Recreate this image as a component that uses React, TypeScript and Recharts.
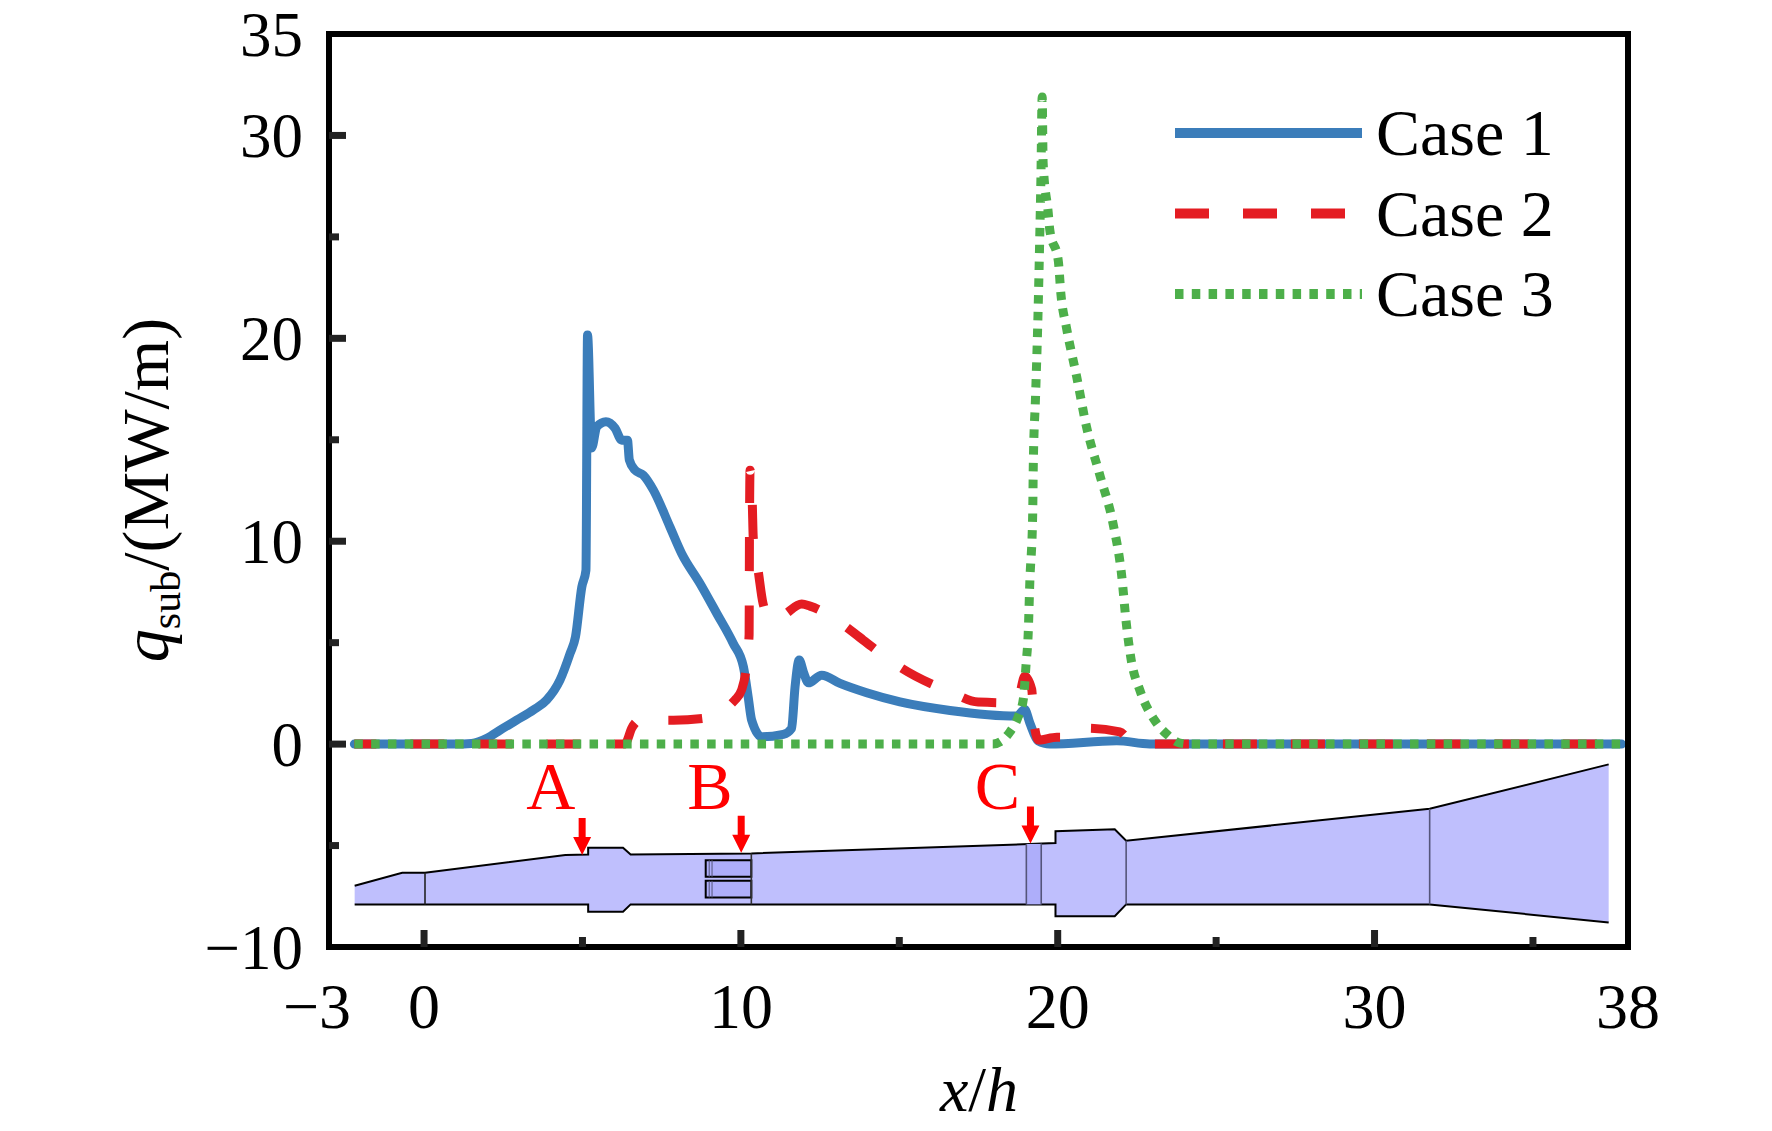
import React from "react";
import {
  ComposedChart, Line, Area, XAxis, YAxis, Legend,
  ReferenceArea, ReferenceLine, ReferenceDot,
} from "recharts";

const FONT = "'Liberation Serif', 'Times New Roman', serif";

const xTicks = [-3, 0, 5, 10, 15, 20, 25, 30, 35, 38];
const xMajor = [0, 10, 20, 30];
const xLabels = [-3, 0, 10, 20, 30, 38];
const yTicks = [-10, -5, 0, 5, 10, 15, 20, 25, 30, 35];
const yMajor = [0, 10, 20, 30];
const yLabels = [-10, 0, 10, 20, 30, 35];

const case1X = [-2.2, 1.0, 1.5, 2.0, 2.4, 2.92, 3.45, 3.87, 4.29, 4.61, 4.78, 4.98, 5.11, 5.16, 5.29, 5.45, 5.74, 6.03, 6.24, 6.42, 6.48, 6.66, 6.92, 7.24, 7.76, 8.13, 8.71, 9.24, 9.76, 10.08, 10.23, 10.34, 10.66, 11.34, 11.6, 11.71, 11.84, 11.99, 12.13, 12.55, 13.13, 13.97, 15.02, 16.6, 18.7, 18.96, 19.12, 19.38, 19.75, 21.86, 22.9, 24, 37.8];
const case1Y = [0, 0, 0.03, 0.3, 0.69, 1.18, 1.68, 2.17, 3.15, 4.47, 5.29, 7.75, 8.57, 20.16, 14.6, 15.64, 15.89, 15.57, 14.98, 14.98, 14.0, 13.5, 13.26, 12.52, 10.71, 9.4, 7.92, 6.44, 4.96, 3.81, 2.33, 1.18, 0.36, 0.48, 0.77, 2.82, 4.14, 3.48, 3.02, 3.4, 2.99, 2.53, 2.08, 1.66, 1.38, 1.7, 1.04, 0.16, 0, 0.16, 0.01, 0, 0];

const case2X = [-2.2, 6.3, 6.39, 6.55, 6.82, 7.87, 8.81, 9.81, 10.02, 10.16, 10.26, 10.27, 10.29, 10.36, 10.39, 10.55, 10.7, 10.95, 11.34, 11.92, 12.18, 13.02, 13.86, 14.7, 15.02, 16.6, 17.49, 18.6, 18.8, 18.96, 19.18, 19.25, 19.4, 19.97, 20.49, 20.89, 21.96, 22.33, 22.9, 37.8];
const case2Y = [0, 0, 0.11, 0.77, 1.18, 1.18, 1.27, 2.17, 2.66, 3.65, 5.4, 10.0, 13.5, 11.86, 10.2, 8.5, 6.93, 6.15, 6.36, 6.9, 6.8, 6.11, 5.13, 4.14, 3.8, 2.58, 2.07, 2.03, 2.47, 3.35, 2.7, 1.04, 0.2, 0.34, 0.34, 0.78, 0.6, 0.12, 0.01, 0];

const case3X = [-2.2, 17.5, 17.96, 18.49, 18.76, 18.92, 19.0, 19.07, 19.12, 19.21, 19.23, 19.3, 19.38, 19.44, 19.47, 19.51, 19.54, 19.7, 19.75, 20.02, 20.1, 20.28, 20.6, 20.9, 21.33, 21.75, 22.01, 22.17, 22.31, 22.6, 23.07, 23.44, 23.86, 24.2, 37.8];
const case3Y = [0, 0, 0, 0.6, 1.38, 2.27, 3.9, 5.5, 8, 11.3, 13.8, 17.1, 21.3, 25.5, 27.9, 31.9, 28.65, 26.2, 25.35, 23.8, 22.2, 20.5, 18.1, 15.7, 13.26, 10.84, 8.43, 5.88, 4.24, 2.63, 1.15, 0.49, 0.05, 0, 0];

// outline of the duct drawn under the curves
const ductX = [-2.19, -0.69, 0.03, 4.46, 5.18, 5.18, 6.28, 6.52, 10.33, 19.93, 19.93, 21.8, 22.16, 31.74, 37.39];
const ductTop = [-6.98, -6.34, -6.34, -5.47, -5.44, -5.11, -5.11, -5.44, -5.39, -4.88, -4.29, -4.2, -4.76, -3.19, -1.0];
const ductBottom = [-7.9, -7.9, -7.9, -7.9, -7.9, -8.26, -8.26, -7.9, -7.9, -7.9, -8.48, -8.48, -7.9, -7.9, -8.79];
const ductDividers = [
  { x: 0.03, top: -6.34, stroke: "#222" },
  { x: 10.33, top: -5.39, stroke: "#333" },
  { x: 19.01, top: -4.93, stroke: "#55557a" },
  { x: 19.48, top: -4.9, stroke: "#55557a" },
  { x: 22.16, top: -4.76, stroke: "#55557a" },
  { x: 31.74, top: -3.19, stroke: "#55557a" },
];

const markers = [
  { name: "A", labelX: 4.0, labelY: -2.0, tipX: 4.99, tipY: -5.47 },
  { name: "B", labelX: 9.02, labelY: -2.0, tipX: 10.01, tipY: -5.36 },
  { name: "C", labelX: 18.1, labelY: -2.0, tipX: 19.14, tipY: -4.9 },
];

const legendItems = [
  { name: "Case 1", color: "#3b7dba", dash: undefined },
  { name: "Case 2", color: "#e41c22", dash: "34 34" },
  { name: "Case 3", color: "#4daf4a", dash: "8.5 8.3" },
];

const toPoints = (xs: number[], ys: number[]) => xs.map((x, i) => ({ x, y: ys[i] }));
const ductData = ductX.map((x, i) => ({ x, band: [ductBottom[i], ductTop[i]] }));

const fmt = (v: number) => (v < 0 ? "\u2212" + Math.abs(v) : String(v));

function xTick(side: "bottom" | "top") {
  return (p: any) => {
    const v = p.payload.value;
    const len = xMajor.includes(v) ? 17 : 10;
    const dir = side === "bottom" ? -1 : 1;
    return (
      <g>
        {v !== -3 && v !== 38 && (
          <line x1={p.x} x2={p.x} y1={p.y} y2={p.y + dir * len} stroke="#222" strokeWidth={7} />
        )}
        {side === "bottom" && xLabels.includes(v) && (
          <text x={p.x + (v === -3 ? -12 : 0)} y={p.y + 81} textAnchor="middle" fontFamily={FONT} fontSize={64} fill="#000">
            {fmt(v)}
          </text>
        )}
      </g>
    );
  };
}

function yTick(side: "left" | "right") {
  return (p: any) => {
    const v = p.payload.value;
    const len = yMajor.includes(v) ? 17 : 10;
    const dir = side === "left" ? 1 : -1;
    return (
      <g>
        {v !== -10 && v !== 35 && (
          <line x1={p.x} x2={p.x + dir * len} y1={p.y} y2={p.y} stroke="#222" strokeWidth={7} />
        )}
        {side === "left" && yLabels.includes(v) && (
          <text x={p.x - 26} y={p.y + 22} textAnchor="end" fontFamily={FONT} fontSize={63} fill="#000">
            {fmt(v)}
          </text>
        )}
      </g>
    );
  };
}

const axisLine = { stroke: "#000", strokeWidth: 6, strokeLinecap: "square" as const };

function arrowShape(p: any) {
  const { cx, cy } = p;
  return (
    <path
      d={`M${cx},${cy} L${cx - 9},${cy - 18} L${cx - 3.5},${cy - 18} L${cx - 3.5},${cy - 37} L${cx + 3.5},${cy - 37} L${cx + 3.5},${cy - 18} L${cx + 9},${cy - 18} Z`}
      fill="#ff0000"
    />
  );
}

function LegendBox() {
  return (
    <svg width={470} height={240} style={{ display: "block" }}>
      {legendItems.map((item, i) => (
        <g key={item.name}>
          <line x1={0} x2={187} y1={40 + i * 80.5} y2={40 + i * 80.5} stroke={item.color} strokeWidth={10} strokeDasharray={item.dash} />
          <text x={201} y={62 + i * 80.5} fontFamily={FONT} fontSize={66} fill="#000">{item.name}</text>
        </g>
      ))}
    </svg>
  );
}

export default function App() {
  return (
    <div style={{ position: "absolute", left: 0, top: 0, width: 1772, height: 1131, background: "#fff" }}>
      <ComposedChart
        width={1772}
        height={1131}
        margin={{ top: 33, right: 143, bottom: 183, left: 328 }}
      >
        <XAxis xAxisId={0} type="number" dataKey="x" domain={[-3, 38]} ticks={xTicks} interval={0} height={1}
          tickSize={0} tickMargin={0} axisLine={axisLine} tickLine={false} tick={xTick("bottom")} />
        <XAxis xAxisId="top" orientation="top" type="number" dataKey="x" domain={[-3, 38]} ticks={xTicks} interval={0} height={1}
          tickSize={0} tickMargin={0} axisLine={axisLine} tickLine={false} tick={xTick("top")} />
        <YAxis yAxisId={0} type="number" domain={[-10, 35]} ticks={yTicks} interval={0} width={1}
          tickSize={0} tickMargin={0} axisLine={axisLine} tickLine={false} tick={yTick("left")} />
        <YAxis yAxisId="right" orientation="right" type="number" domain={[-10, 35]} ticks={yTicks} interval={0} width={1}
          tickSize={0} tickMargin={0} axisLine={axisLine} tickLine={false} tick={yTick("right")} />

        <Area data={ductData} dataKey="band" type="linear" fill="#bfbffd" fillOpacity={1}
          stroke="#000" strokeWidth={2} dot={false} activeDot={false} legendType="none" isAnimationActive={false} />
        <ReferenceArea x1={19.01} x2={19.48} y1={-7.9} y2={-4.92} fill="#aeaefa" fillOpacity={1} stroke="none" />
        <ReferenceArea x1={8.89} x2={10.33} y1={-6.54} y2={-5.72} fill="#aeaefa" fillOpacity={1} stroke="#000" strokeWidth={2} />
        <ReferenceArea x1={8.89} x2={10.33} y1={-7.56} y2={-6.74} fill="#aeaefa" fillOpacity={1} stroke="#000" strokeWidth={2} />
        {[9.0, 9.09].flatMap((x) => [[-6.54, -5.72], [-7.56, -6.74]].map(([a, b]) => (
          <ReferenceLine key={`${x}${a}`} segment={[{ x, y: a }, { x, y: b }]} stroke="#55557a" strokeWidth={1} />
        )))}
        {ductDividers.map((d) => (
          <ReferenceLine key={d.x} segment={[{ x: d.x, y: -7.9 }, { x: d.x, y: d.top }]} stroke={d.stroke} strokeWidth={1.6} />
        ))}

        {markers.map((m) => (
          <ReferenceDot key={m.name} x={m.tipX} y={m.tipY} shape={arrowShape} />
        ))}
        {markers.map((m) => (
          <ReferenceDot key={m.name + "t"} x={m.labelX} y={m.labelY} r={0} fill="none" stroke="none"
            label={{ value: m.name, fill: "#ff0000", fontSize: 68, fontFamily: FONT, position: "center" }} />
        ))}

        <Line data={toPoints(case1X, case1Y)} dataKey="y" name="Case 1" type="monotone" stroke={legendItems[0].color}
          strokeWidth={9} strokeLinecap="round" strokeLinejoin="round" dot={false} activeDot={false} isAnimationActive={false} />
        <Line data={toPoints(case2X, case2Y)} dataKey="y" name="Case 2" type="monotone" stroke={legendItems[1].color}
          strokeWidth={9} strokeDasharray={legendItems[1].dash} strokeDashoffset={12} dot={false} activeDot={false} isAnimationActive={false} />
        <Line data={toPoints(case3X, case3Y)} dataKey="y" name="Case 3" type="monotone" stroke={legendItems[2].color}
          strokeWidth={9} strokeDasharray={legendItems[2].dash} dot={false} activeDot={false} isAnimationActive={false} />

        <Legend layout="vertical" align="center" verticalAlign="middle" content={() => <LegendBox />}
          wrapperStyle={{ left: 1175, top: 93, width: 470, height: 240, margin: 0 }} />

        <text transform="translate(168,490) rotate(-90)" textAnchor="middle" fontFamily={FONT} fontSize={66} fill="#000">
          <tspan fontStyle="italic">q</tspan>
          <tspan fontSize={42} dy={12}>sub</tspan>
          <tspan dy={-12}>/(MW/m)</tspan>
        </text>
        <text x={979} y={1111} textAnchor="middle" fontFamily={FONT} fontSize={64} fill="#000">
          <tspan fontStyle="italic">x</tspan>/<tspan fontStyle="italic">h</tspan>
        </text>
      </ComposedChart>
    </div>
  );
}
